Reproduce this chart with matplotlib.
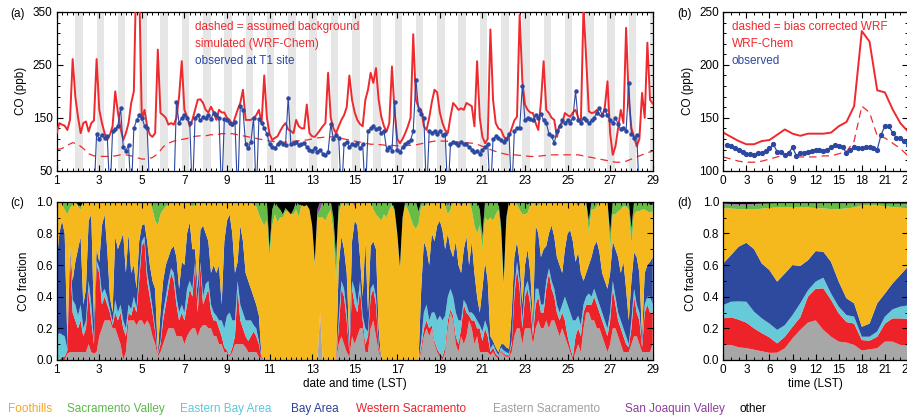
import numpy as np
import matplotlib
matplotlib.use("Agg")
import matplotlib.pyplot as plt
from matplotlib.ticker import MultipleLocator

plt.rcParams['font.family'] = ['Liberation Sans', 'DejaVu Sans']
plt.rcParams['font.size'] = 8.5
plt.rcParams['xtick.direction'] = 'in'
plt.rcParams['ytick.direction'] = 'in'
plt.rcParams['xtick.top'] = True
plt.rcParams['ytick.right'] = True

# ---------------- data ----------------
# T1 site CO (ppb), 3-hourly from 1 June 00 LST to 29 June 00 LST
sim_co = [
    121, 140, 137, 135, 127, 146, 261, 190,   # 1
    152, 121, 140, 143, 124, 140, 145, 261,   # 2
    165, 140, 121, 108, 118, 134, 200, 160,   # 3
    130, 108, 121, 140, 178, 200, 450, 400,   # 4
    146, 165, 134, 118, 114, 121, 279, 159,   # 5
    155, 150, 137, 140, 137, 150, 190, 257,   # 6
    165, 152, 134, 146, 165, 184, 185, 178,   # 7
    165, 160, 171, 160, 146, 165, 160, 160,   # 8
    150, 146, 134, 150, 165, 178, 203, 146,   # 9
    146, 146, 150, 155, 165, 140, 230, 150,   # 10
    120, 108, 112, 115, 125, 134, 140, 128,   # 11
    125, 121, 146, 134, 130, 130, 175, 121,   # 12
    115, 114, 120, 127, 134, 140, 235, 150,   # 13
    130, 121, 134, 146, 155, 170, 230, 184,   # 14
    160, 146, 138, 134, 184, 203, 235, 216,   # 15
    244, 184, 152, 134, 124, 140, 247, 160,   # 16
    110, 102, 110, 121, 134, 150, 308, 184,   # 17
    170, 165, 134, 127, 150, 180, 203, 198,   # 18
    160, 140, 127, 121, 152, 178, 172, 165,   # 19
    168, 165, 178, 175, 172, 134, 257, 150,   # 20
    114, 102, 110, 317, 184, 140, 130, 127,   # 21
    115, 108, 115, 130, 145, 152, 345, 220,   # 22
    175, 165, 160, 159, 140, 127, 180, 257,   # 23
    165, 159, 150, 146, 114, 134, 140, 159,   # 24
    155, 152, 160, 165, 150, 140, 360, 260,   # 25
    162, 159, 160, 165, 155, 152, 170, 219,   # 26
    121, 80, 96, 130, 165, 140, 320, 184,     # 27
    130, 114, 96, 110, 197, 150, 292, 184,    # 28
    177,                                      # 29
]

# observed CO, 3-hourly from 2 June 18 LST to 28 June 09 LST (0 = no data)
obs_co = [
    0, 120,                                   # 2
    110, 118, 112, 115, 0, 125, 128, 135,     # 3
    168, 95, 88, 98, 0, 130, 145, 155,        # 4
    150, 135, 130, 0, 0, 0, 0, 0,             # 5
    0, 0, 0, 0, 0, 180, 140, 150,             # 6
    155, 150, 140, 0, 150, 155, 145, 152,     # 7
    150, 155, 148, 160, 155, 150, 0, 148,     # 8
    145, 140, 138, 142, 0, 172, 165, 100,     # 9
    92, 105, 150, 0, 148, 140, 130, 120,      # 10
    100, 95, 92, 100, 105, 100, 98, 188,      # 11
    100, 102, 105, 98, 100, 102, 95, 90,      # 12
    88, 92, 85, 90, 82, 80, 85, 138,          # 13
    110, 118, 112, 0, 100, 105, 95, 100,      # 14
    98, 102, 92, 100, 0, 125, 130, 135,       # 15
    128, 130, 122, 125, 90, 95, 88, 180,      # 16
    90, 85, 95, 100, 105, 108, 125, 222,      # 17
    165, 158, 150, 0, 125, 122, 125, 120,     # 18
    125, 118, 120, 0, 100, 105, 102, 98,      # 19
    105, 100, 100, 95, 90, 85, 88, 82,        # 20
    90, 95, 100, 0, 110, 115, 112, 108,       # 21
    105, 110, 120, 0, 125, 130, 130, 210,     # 22
    145, 150, 148, 145, 155, 150, 158, 145,   # 23
    140, 120, 115, 102, 125, 135, 145, 140,   # 24
    145, 140, 150, 200, 145, 140, 150, 145,   # 25
    140, 145, 150, 160, 168, 155, 165, 155,   # 26
    145, 140, 150, 138, 128, 130, 125, 215,   # 27
    120, 112, 118, 0,                         # 28
]

# assumed background CO, 6-hourly from 1 June 00 LST
bg_co = [
    90, 92, 98, 103,  100, 92, 82, 78,  77, 77, 77, 78,  80, 80, 78, 75,
    72, 72, 75, 82,  95, 102, 106, 108,  110, 112, 115, 116,  116, 118, 118, 120,
    120, 120, 118, 116,  114, 112, 110, 108,  106, 105, 104, 104,  105, 106, 107, 108,
    110, 112, 113, 114,  114, 112, 110, 108,  106, 104, 102, 100,  100, 99, 98, 98,
    97, 97, 98, 98,  100, 102, 104, 106,  106, 106, 105, 104,  104, 103, 102, 100,
    96, 92, 88, 85,  82, 80, 80, 79,  78, 77, 77, 78,  79, 80, 80, 80,
    80, 80, 80, 78,  76, 74, 72, 70,  68, 66, 66, 68,  72, 76, 80, 84,
    87,
]

# source fractions of CO at T1, 3-hourly from 1 June 00 LST
frac_e_sac = [
    0, 0, 0, 0, .04, .05, .05, .05,           # 1
    .05, .05, .05, .05, .10, .05, .04, .05,   # 2
    .15, .20, .25, .25, .25, .20, .20, .15,   # 3
    .10, 0, .05, .25, .25, .25, .22, .25,     # 4
    .25, .22, .25, .22, .15, .10, .02, .05,   # 5
    .10, .15, .20, .20, .20, .15, .15, .15,   # 6
    .10, .15, .18, .20, .20, .15, .20, .22,   # 7
    .22, .20, .20, .15, .15, .10, .10, .05,   # 8
    .05, .02, .05, .10, .10, .10, .10, .08,   # 9
    .05, .05, .05, .05, .02, .01, 0, 0,       # 10
    0, 0, 0, 0, 0, 0, 0, 0,                   # 11
    0, 0, 0, 0, 0, 0, 0, 0,                   # 12
    0, 0, 0, .28, 0, 0, 0, 0,                 # 13
    0, 0, .10, .15, .10, .05, .02, .15,       # 14
    .10, .15, .20, .20, .05, .05, .20, .25,   # 15
    .15, .05, 0, 0, 0, 0, 0, 0,               # 16
    0, 0, 0, 0, 0, 0, 0, 0,                   # 17
    0, .05, .15, .20, .15, .20, .10, .05,     # 18
    .02, 0, .05, .20, .30, .25, .10, .05,     # 19
    .15, .10, .15, .25, .20, .10, .15, .05,   # 20
    .05, .05, .05, .03, .05, .02, .01, .05,   # 21
    .03, .02, .02, .05, .15, .20, .20, .10,   # 22
    .20, .20, .20, .10, .20, .25, .20, .20,   # 23
    .25, .20, .25, .25, .20, .15, .20, .15,   # 24
    .10, .05, 0, .05, .10, .05, .20, .30,     # 25
    .30, .25, .25, .20, .20, .15, .10, .05,   # 26
    .10, .20, .20, .15, .10, .05, .05, .05,   # 27
    .10, .15, .15, .10, .05, .05, .05, .05,   # 28
    .10,                                      # 29
]
frac_w_sac = [
    0, 0, .02, .02, .02, .63, .25, .20,       # 1
    .15, .20, .10, .15, .35, .20, .06, .55,   # 2
    .40, .15, .15, .10, .05, .02, .10, .10,   # 3
    .20, .20, .10, .05, .03, .10, .08, .25,   # 4
    .47, .53, .25, .18, .15, .08, .01, .05,   # 5
    .15, .20, .25, .35, .30, .20, .10, .15,   # 6
    .15, .20, .27, .20, .40, .15, .40, .13,   # 7
    .18, .25, .10, .10, .10, .10, .05, .03,   # 8
    .01, .01, .03, .05, .35, .15, .10, .07,   # 9
    .07, .10, .13, .10, .08, 0, 0, 0,         # 10
    0, 0, 0, 0, 0, 0, 0, 0,                   # 11
    0, 0, 0, 0, 0, 0, 0, 0,                   # 12
    0, 0, 0, .02, 0, 0, 0, 0,                 # 13
    0, 0, .10, .30, .30, .20, .03, .30,       # 14
    .25, .15, .25, .05, .05, .10, .20, .20,   # 15
    .20, .03, 0, 0, 0, 0, 0, 0,               # 16
    0, 0, 0, 0, 0, 0, 0, 0,                   # 17
    0, .03, .05, .05, .05, .02, .02, .02,     # 18
    .02, .02, .03, .05, .02, .03, .05, .05,   # 19
    .05, .25, .15, .03, .05, .15, .05, .15,   # 20
    .07, .15, .10, .02, .03, .02, .01, .01,   # 21
    .01, .01, .01, .05, .25, .38, .25, .10,   # 22
    .20, .25, .15, .05, .15, .15, .10, .10,   # 23
    .20, .35, .20, .15, .10, .10, .10, .10,   # 24
    .05, .03, .02, .10, .10, .10, .10, .05,   # 25
    .05, .10, .15, .15, .10, .10, .10, .10,   # 26
    .15, .25, .15, .10, .10, .10, .05, .03,   # 27
    .10, .25, .15, .15, .03, .25, .30, .25,   # 28
    .20,                                      # 29
]
frac_e_bay = [
    .15, .17, .14, .13, .01, .02, .08, .10,   # 1
    .08, .10, .05, .05, .05, .10, .02, .03,   # 2
    .03, .07, .05, .05, .02, .02, .08, .05,   # 3
    .05, .05, .05, .05, .04, .05, .03, .05,   # 4
    .03, .03, .05, .05, .03, .02, .01, .02,   # 5
    .05, .05, .05, .03, .05, .05, .05, .05,   # 6
    .05, .10, .05, .05, .02, .05, .02, .05,   # 7
    .08, .05, .05, .05, .03, .05, .10, .12,   # 8
    .22, .27, .17, .10, .05, .10, .10, .10,   # 9
    .13, .10, .04, .05, .02, 0, 0, 0,         # 10
    0, 0, 0, 0, 0, 0, 0, 0,                   # 11
    0, 0, 0, 0, 0, 0, 0, 0,                   # 12
    0, 0, 0, 0, 0, 0, 0, 0,                   # 13
    0, 0, .05, .05, .05, .05, .01, .05,       # 14
    .10, .05, .05, .03, .10, .03, .05, .03,   # 15
    .05, .02, 0, 0, 0, 0, 0, 0,               # 16
    0, 0, 0, 0, 0, 0, 0, 0,                   # 17
    0, .04, .10, .10, .05, .08, .18, .18,     # 18
    .24, .23, .20, .15, .13, .12, .15, .15,   # 19
    .05, .03, .05, .02, .05, .03, .05, .02,   # 20
    .06, .05, .05, .02, .02, .02, .01, .02,   # 21
    .02, .02, .01, .02, .05, .04, .05, .05,   # 22
    .05, .05, .05, .05, .10, .05, .05, .05,   # 23
    .05, .03, .05, .05, .05, .05, .05, .15,   # 24
    .20, .22, .23, .10, .08, .07, .05, .05,   # 25
    .07, .05, .05, .05, .05, .05, .05, .05,   # 26
    .05, .05, .05, .05, .05, .05, .05, .02,   # 27
    .05, .05, .05, .05, .02, .05, .05, .10,   # 28
    .05,                                      # 29
]
frac_bay = [
    .47, .63, .72, .65, .05, .02, .12, .27,   # 1
    .42, .43, .15, .20, .38, .57, .13, .07,   # 2
    .04, .43, .47, .30, .08, .06, .40, .40,   # 3
    .40, .55, .35, .45, .23, .20, .12, .20,   # 4
    .10, .08, .20, .15, .17, .25, .01, .18,   # 5
    .20, .20, .15, .12, .17, .25, .15, .27,   # 6
    .30, .35, .37, .25, .08, .10, .20, .45,   # 7
    .32, .25, .20, .30, .27, .35, .10, .55,   # 8
    .60, .62, .55, .30, .12, .50, .45, .30,   # 9
    .25, .20, .18, .15, .16, .01, 0, 0,       # 10
    0, 0, 0, 0, 0, 0, 0, 0,                   # 11
    0, 0, 0, 0, 0, 0, 0, 0,                   # 12
    0, 0, 0, 0, 0, 0, 0, 0,                   # 13
    0, 0, .35, .28, .25, .25, .04, .25,       # 14
    .43, .50, .15, .12, .55, .12, .27, .27,   # 15
    .30, .10, 0, 0, 0, 0, 0, 0,               # 16
    0, 0, 0, 0, 0, 0, 0, 0,                   # 17
    0, .33, .45, .35, .35, .50, .45, .60,     # 18
    .60, .57, .42, .40, .25, .25, .45, .35,   # 19
    .30, .32, .43, .30, .45, .27, .15, .08,   # 20
    .27, .37, .30, .08, .02, .02, .02, .02,   # 21
    .04, .03, .03, .18, .20, .13, .12, .10,   # 22
    .15, .20, .15, .05, .40, .35, .30, .35,   # 23
    .22, .22, .35, .33, .30, .30, .20, .30,   # 24
    .45, .52, .50, .37, .40, .33, .15, .15,   # 25
    .18, .25, .27, .35, .33, .25, .25, .25,   # 26
    .25, .25, .30, .35, .30, .42, .30, .15,   # 27
    .25, .23, .30, .25, .05, .20, .20, .22,   # 28
    .30,                                      # 29
]
frac_sac_valley = [
    0, 0, .02, .05, .08, .04, .02, 0,         # 1
    .01, .02, 0, 0, 0, 0, 0, 0,               # 2
    0, 0, 0, 0, 0, 0, 0, 0,                   # 3
    0, 0, 0, 0, 0, 0, 0, 0,                   # 4
    0, 0, 0, 0, .05, .12, .15, .08,           # 5
    .05, .03, .02, 0, 0, 0, 0, 0,             # 6
    0, 0, .02, .03, .02, 0, 0, 0,             # 7
    0, 0, 0, 0, 0, 0, 0, 0,                   # 8
    0, 0, 0, 0, 0, 0, 0, 0,                   # 9
    0, 0, .02, .03, .08, .12, .15, .12,       # 10
    .05, .10, .08, .10, .05, .02, .02, 0,     # 11
    0, .03, .05, .08, 0, 0, 0, 0,             # 12
    0, .02, .02, .05, .10, .12, .08, .05,     # 13
    .10, .15, .05, .02, 0, .02, .02, 0,       # 14
    0, 0, 0, 0, 0, 0, 0, .05,                 # 15
    .08, .10, .12, .08, .10, .05, .02, .02,   # 16
    .02, .02, 0, .02, .05, .10, .15, .17,     # 17
    .08, .03, .03, .02, 0, 0, 0, 0,           # 18
    0, 0, .02, .05, .05, 0, 0, 0,             # 19
    0, 0, 0, 0, .05, .15, .20, .10,           # 20
    .08, .10, .12, .10, .12, .08, .05, .05,   # 21
    .05, .03, 0, 0, 0, .02, .05, .08,         # 22
    .08, .05, .02, 0, .03, .02, 0, 0,         # 23
    0, 0, 0, 0, 0, 0, 0, 0,                   # 24
    0, 0, 0, 0, 0, 0, 0, .02,                 # 25
    .08, .05, .05, .03, 0, 0, 0, 0,           # 26
    .10, .08, .08, .06, .05, .03, .03, .05,   # 27
    .10, .08, .06, .06, .05, .05, .06, .05,   # 28
    .04,                                      # 29
]
frac_sjv = [
    0, 0, 0, 0, 0, 0, 0, 0,                   # 1
    0, 0, 0, 0, 0, 0, 0, 0,                   # 2
    0, 0, 0, 0, 0, 0, 0, 0,                   # 3
    0, 0, 0, 0, 0, 0, 0, 0,                   # 4
    0, 0, 0, 0, 0, 0, 0, 0,                   # 5
    0, 0, 0, 0, 0, 0, 0, 0,                   # 6
    0, 0, 0, 0, 0, 0, 0, 0,                   # 7
    0, 0, 0, 0, 0, 0, 0, 0,                   # 8
    0, 0, 0, 0, 0, 0, 0, 0,                   # 9
    0, 0, 0, 0, 0, 0, 0, 0,                   # 10
    0, 0, 0, 0, 0, 0, 0, 0,                   # 11
    0, 0, 0, 0, 0, 0, 0, 0,                   # 12
    0, 0, .03, .05, 0, 0, 0, 0,               # 13
    0, 0, 0, 0, 0, 0, 0, 0,                   # 14
    .03, 0, 0, 0, 0, 0, 0, 0,                 # 15
    0, 0, 0, 0, 0, 0, 0, 0,                   # 16
    0, 0, 0, 0, 0, 0, 0, 0,                   # 17
    0, 0, 0, 0, 0, 0, 0, 0,                   # 18
    0, 0, 0, .03, 0, 0, 0, 0,                 # 19
    .03, 0, 0, 0, 0, 0, 0, 0,                 # 20
    0, 0, 0, 0, 0, 0, 0, 0,                   # 21
    0, 0, 0, 0, 0, 0, 0, 0,                   # 22
    0, 0, 0, 0, 0, 0, 0, 0,                   # 23
    0, 0, 0, 0, 0, 0, 0, 0,                   # 24
    0, 0, 0, 0, .03, 0, 0, 0,                 # 25
    0, 0, 0, 0, 0, 0, 0, 0,                   # 26
    0, 0, 0, 0, 0, 0, 0, 0,                   # 27
    0, 0, 0, 0, 0, 0, 0, 0,                   # 28
    0,                                        # 29
]
frac_other = [
    0, 0, 0, 0, 0, 0, 0, 0,                   # 1
    .02, .03, 0, 0, 0, 0, 0, 0,               # 2
    0, 0, 0, 0, 0, 0, 0, 0,                   # 3
    0, 0, 0, 0, 0, 0, 0, 0,                   # 4
    0, 0, 0, 0, 0, 0, 0, 0,                   # 5
    0, 0, 0, 0, 0, 0, 0, 0,                   # 6
    0, 0, 0, 0, 0, 0, 0, 0,                   # 7
    .01, 0, 0, 0, 0, 0, 0, 0,                 # 8
    0, 0, 0, 0, 0, 0, 0, 0,                   # 9
    0, 0, 0, 0, 0, 0, 0, 0,                   # 10
    .30, .05, 0, .03, .05, .08, .04, .06,     # 11
    .08, .05, 0, .02, .02, .03, .02, .05,     # 12
    .15, .38, .05, 0, 0, 0, 0, 0,             # 13
    .10, .35, .02, 0, 0, 0, 0, 0,             # 14
    0, 0, 0, 0, 0, 0, 0, 0,                   # 15
    0, 0, 0, 0, 0, 0, 0, .05,                 # 16
    .20, .41, .10, 0, 0, 0, 0, 0,             # 17
    .06, 0, 0, 0, 0, 0, 0, 0,                 # 18
    0, 0, 0, 0, 0, 0, 0, 0,                   # 19
    0, 0, 0, 0, 0, 0, 0, .05,                 # 20
    .22, 0, 0, 0, 0, 0, 0, .15,               # 21
    .50, .10, 0, 0, 0, 0, 0, 0,               # 22
    0, .02, 0, 0, 0, 0, 0, 0,                 # 23
    0, 0, 0, 0, 0, 0, 0, 0,                   # 24
    0, 0, 0, 0, 0, 0, 0, 0,                   # 25
    .12, 0, 0, 0, 0, 0, 0, 0,                 # 26
    .20, 0, 0, 0, 0, 0, 0, 0,                 # 27
    .17, 0, 0, 0, 0, 0, 0, .02,               # 28
    .02,                                      # 29
]

# mean diurnal cycle, hourly 0-24 LST
hours = list(range(25))
diurnal_wrf = [136, 132, 128, 125, 125, 128, 129, 134, 139, 135, 133, 135, 135,
               135, 136, 142, 146, 161, 232, 222, 176, 174, 158, 145, 137]
diurnal_wrf_bc = [113, 111, 109, 108, 108, 109, 111, 113, 115, 114, 113, 113, 113,
                  114, 114, 116, 118, 128, 161, 155, 133, 131, 126, 121, 114]
obs_hours = [h / 2 for h in range(1, 49)]
diurnal_obs = [124, 123, 121, 120, 118, 116, 116, 115, 117, 117, 119, 121,
               125, 118, 118, 115, 117, 122, 114, 117, 117, 118, 119, 120,
               120, 119, 120, 122, 124, 123, 122, 117, 120, 122, 121, 121,
               122, 122, 121, 120, 134, 142, 142, 136, 131, 131, 128, 124]

diurnal_e_sac = [.095, .095, .08, .075, .065, .055, .045, .046, .074, .137, .19, .236, .25,
                 .19, .147, .116, .11, .095, .06, .067, .074, .116, .116, .095, .09]
diurnal_w_sac = [.168, .175, .175, .161, .135, .115, .098, .059, .073, .073, .08, .164, .20,
                 .263, .233, .179, .13, .135, .066, .055, .073, .114, .147, .168, .17]
diurnal_e_bay = [.084, .098, .115, .132, .105, .093, .087, .085, .073, .074, .088, .04, .045,
                 .067, .04, .042, .044, .044, .021, .025, .033, .044, .057, .074, .085]
diurnal_bay = [.263, .295, .346, .373, .395, .347, .338, .305, .327, .316, .236, .19, .193,
               .164, .20, .158, .106, .084, .063, .083, .178, .146, .164, .20, .245]
diurnal_sac_valley = [.025, .025, .028, .03, .03, .028, .025, .025, .025, .025, .025, .025, .028,
                      .03, .035, .035, .03, .025, .012, .01, .012, .015, .02, .022, .025]
diurnal_sjv = [.004] * 25
diurnal_other = [.012, .014, .015, .015, .014, .012, .01, .008, .008, .008, .008, .008, .008,
                 .008, .008, .008, .008, .008, .008, .008, .008, .01, .01, .012, .012]

night_start, night_end = 20.9, 5.5   # LST hours of the shaded night periods

source_names = ['Foothills', 'Sacramento Valley', 'Eastern Bay Area', 'Bay Area',
                'Western Sacramento', 'Eastern Sacramento', 'San Joaquin Valley', 'other']
source_colors = ['#F6B91D', '#67BC45', '#66CAD8', '#2D4A9E', '#EE2329', '#A7A7A7',
                 '#8D47A8', '#000000']
label_colors = ['#F5A623', '#5DB84A', '#5BC8DA', '#2B3F95', '#E8242B', '#A0A0A0',
                '#8B3F9E', '#000000']

RED = '#EE2A2E'
BLUE = '#2C48A0'

# ---------------- figure ----------------
W, H = 907, 417
fig = plt.figure(figsize=(W / 100, H / 100), dpi=100)


def box(left, top, right, bottom):
    return [left / W, 1 - bottom / H, (right - left) / W, (bottom - top) / H]


ax_a = fig.add_axes(box(56.7, 12, 652.7, 170.7))
ax_b = fig.add_axes(box(723.3, 12, 908, 170.7))
ax_c = fig.add_axes(box(56.7, 201.7, 652.7, 360))
ax_d = fig.add_axes(box(723.3, 201.7, 908, 360))

for ax in (ax_a, ax_b, ax_c, ax_d):
    ax.tick_params(which='major', length=4, width=0.8, labelsize=8.5, pad=3)
    ax.tick_params(which='minor', length=2, width=0.7)
    for s in ax.spines.values():
        s.set_linewidth(0.9)

t3 = 1 + np.arange(len(sim_co)) / 8.0
t_obs = 2.75 + np.arange(len(obs_co)) / 8.0
t_bg = 1 + np.arange(len(bg_co)) / 4.0

# (a) time series
for d in range(2, 30):
    ax_a.axvspan(d - 1 + night_start / 24, d + night_end / 24, color='#E6E6E6', lw=0, zorder=0)
ax_a.plot(t_bg, bg_co, color=RED, lw=0.9, dashes=(6, 4), zorder=2)
ax_a.plot(t3, sim_co, color=RED, lw=1.4, zorder=3)
ax_a.plot(t_obs, obs_co, color=BLUE, lw=0.8, marker='o', ms=2.2, mec=BLUE, mfc=BLUE, zorder=4)
ax_a.set_xlim(1, 29)
ax_a.set_ylim(50, 350)
ax_a.xaxis.set_major_locator(MultipleLocator(2, offset=1))
ax_a.xaxis.set_minor_locator(MultipleLocator(0.25))
ax_a.yaxis.set_major_locator(MultipleLocator(100, offset=50))
ax_a.yaxis.set_minor_locator(MultipleLocator(20, offset=10))
ax_a.set_ylabel('CO (ppb)', labelpad=4)
ax_a.text(0.232, 0.885, 'dashed = assumed background', color=RED, transform=ax_a.transAxes, fontsize=8.5)
ax_a.text(0.232, 0.78, 'simulated (WRF-Chem)', color=RED, transform=ax_a.transAxes, fontsize=8.5)
ax_a.text(0.232, 0.675, 'observed at T1 site', color=BLUE, transform=ax_a.transAxes, fontsize=8.5)

# (b) diurnal cycle
ax_b.plot(hours, diurnal_wrf_bc, color=RED, lw=0.9, dashes=(6, 4))
ax_b.plot(hours, diurnal_wrf, color=RED, lw=1.4)
ax_b.plot(obs_hours, diurnal_obs, color=BLUE, lw=0.9, marker='o', ms=2.8, mec=BLUE, mfc=BLUE)
ax_b.set_xlim(0, 24)
ax_b.set_ylim(100, 250)
ax_b.xaxis.set_major_locator(MultipleLocator(3))
ax_b.xaxis.set_minor_locator(MultipleLocator(1))
ax_b.yaxis.set_major_locator(MultipleLocator(50))
ax_b.yaxis.set_minor_locator(MultipleLocator(10))
ax_b.set_ylabel('CO (ppb)', labelpad=4)
ax_b.text(0.045, 0.885, 'dashed = bias corrected WRF', color=RED, transform=ax_b.transAxes, fontsize=8.5)
ax_b.text(0.045, 0.78, 'WRF-Chem', color=RED, transform=ax_b.transAxes, fontsize=8.5)
ax_b.text(0.045, 0.675, 'observed', color=BLUE, transform=ax_b.transAxes, fontsize=8.5)


def stack_sources(ax, t, e_sac, w_sac, e_bay, bay, sac_valley, sjv, other):
    e_sac, w_sac, e_bay, bay = map(np.asarray, (e_sac, w_sac, e_bay, bay))
    sac_valley, sjv, other = map(np.asarray, (sac_valley, sjv, other))
    # Foothills carries the remainder of each total
    foothills = 1 - (e_sac + w_sac + e_bay + bay + sac_valley + sjv + other)
    layers = [e_sac, w_sac, e_bay, bay, foothills, sac_valley, sjv, other]
    colors = [source_colors[5], source_colors[4], source_colors[2], source_colors[3],
              source_colors[0], source_colors[1], source_colors[6], source_colors[7]]
    ax.stackplot(t, layers, colors=colors, lw=0, antialiased=True)
    ax.set_ylim(0, 1)
    ax.yaxis.set_major_locator(MultipleLocator(0.2))
    ax.yaxis.set_minor_locator(MultipleLocator(0.1))
    ax.yaxis.set_major_formatter(plt.FormatStrFormatter('%.1f'))
    ax.set_ylabel('CO fraction', labelpad=4)
    ax.set_axisbelow(False)


# (c) source contributions
stack_sources(ax_c, t3, frac_e_sac, frac_w_sac, frac_e_bay, frac_bay,
              frac_sac_valley, frac_sjv, frac_other)
ax_c.set_xlim(1, 29)
ax_c.xaxis.set_major_locator(MultipleLocator(2, offset=1))
ax_c.xaxis.set_minor_locator(MultipleLocator(0.25))
ax_c.set_xlabel('date and time (LST)', labelpad=1)

# (d) mean diurnal source contributions
stack_sources(ax_d, hours, diurnal_e_sac, diurnal_w_sac, diurnal_e_bay, diurnal_bay,
              diurnal_sac_valley, diurnal_sjv, diurnal_other)
ax_d.set_xlim(0, 24)
ax_d.xaxis.set_major_locator(MultipleLocator(3))
ax_d.xaxis.set_minor_locator(MultipleLocator(1))
ax_d.set_xlabel('time (LST)', labelpad=1)

# panel letters
fig.text(10 / W, 1 - 14 / H, '(a)', fontsize=8.5, va='center')
fig.text(677 / W, 1 - 14 / H, '(b)', fontsize=8.5, va='center')
fig.text(10 / W, 1 - 203 / H, '(c)', fontsize=8.5, va='center')
fig.text(677 / W, 1 - 203 / H, '(d)', fontsize=8.5, va='center')

# source legend row
legend_x = [8, 67, 180, 291, 356, 493, 625, 740]
for x, name, col in zip(legend_x, source_names, label_colors):
    fig.text(x / W, 1 - 409 / H, name, color=col, fontsize=8.5, va='center', ha='left')

fig.savefig('out.png', dpi=100)
